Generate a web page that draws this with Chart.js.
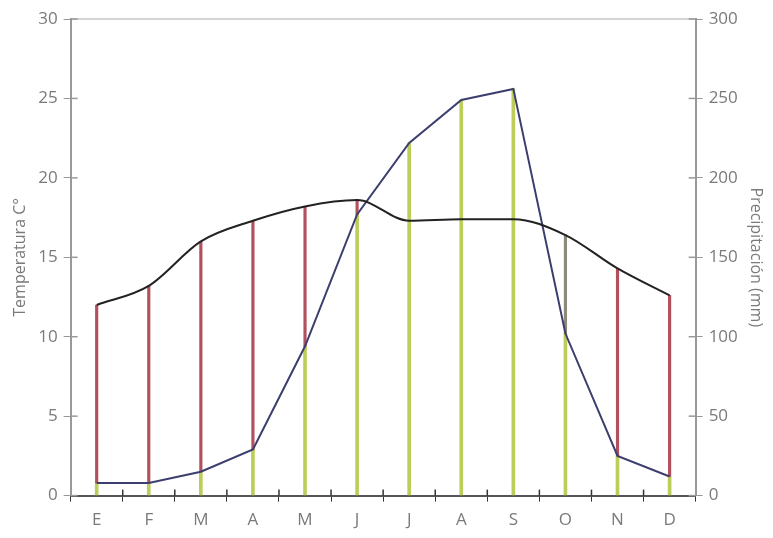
<!DOCTYPE html>
<html>
<head>
<meta charset="utf-8">
<script src="https://cdn.jsdelivr.net/npm/chart.js@4/dist/chart.umd.min.js"></script>
<style>
  html, body { margin: 0; padding: 0; background: #fff; }
  #wrap { width: 773px; height: 538px; }
</style>
</head>
<body>
<div id="wrap"><canvas id="climograma"></canvas></div>
<script>
'use strict';

// meses
const months = ['E', 'F', 'M', 'A', 'M', 'J', 'J', 'A', 'S', 'O', 'N', 'D'];
// temperatura media (°C)
const temperature = [12.0, 13.2, 16.0, 17.3, 18.2, 18.6, 17.3, 17.4, 17.4, 16.4, 14.3, 12.6];
// precipitación (mm)
const precipitation = [8, 8, 15, 29, 94, 177, 222, 249, 256, 102, 25, 12];
// ticks
const tempTicks = [0, 5, 10, 15, 20, 25, 30];
const precTicks = [0, 50, 100, 150, 200, 250, 300];

const GREEN = '#bccd5a';
const RED = '#b2505e';
const dryColors = months.map((m, i) => i === 9 ? '#8d8a7c' : RED);

// tramo seco: de la precipitación (en escala de temperatura) hasta la temperatura
const dryBars = temperature.map((t, i) => t > precipitation[i] / 10 ? [precipitation[i] / 10, t] : null);
const wetBars = precipitation.map(p => [0, p]);

const font = { family: '"Open Sans", "Noto Sans", sans-serif', size: 17 };
const gray = '#7a7a7a';

// marcas hacia dentro del área (las de fuera las pinta Chart.js)
const innerTicks = {
    id: 'innerTicks',
    afterDraw(chart) {
        const ctx = chart.ctx;
        const area = chart.chartArea;
        const sx = chart.scales.x, sy = chart.scales.y, s2 = chart.scales.y2;
        ctx.save();
        ctx.lineWidth = 1.5;
        ctx.strokeStyle = '#999';
        tempTicks.forEach(v => {
            const py = sy.getPixelForValue(v);
            ctx.beginPath(); ctx.moveTo(area.left, py); ctx.lineTo(area.left + 7, py); ctx.stroke();
        });
        precTicks.forEach(v => {
            const py = s2.getPixelForValue(v);
            ctx.beginPath(); ctx.moveTo(area.right, py); ctx.lineTo(area.right - 7, py); ctx.stroke();
        });
        ctx.strokeStyle = '#333';
        for (let i = 1; i < months.length; i++) {
            const px = (sx.getPixelForValue(i - 1) + sx.getPixelForValue(i)) / 2;
            ctx.beginPath(); ctx.moveTo(px, area.bottom); ctx.lineTo(px, area.bottom - 6); ctx.stroke();
        }
        ctx.restore();
    }
};

const config = {
    data: {
        labels: months,
        datasets: [
            {
                type: 'line',
                label: 'Temperatura',
                data: temperature,
                yAxisID: 'y',
                borderColor: '#222',
                borderWidth: 2,
                pointRadius: 0,
                cubicInterpolationMode: 'monotone',
                order: 0
            },
            {
                type: 'line',
                label: 'Precipitación',
                data: precipitation,
                yAxisID: 'y2',
                borderColor: '#3c3f6e',
                borderWidth: 2,
                pointRadius: 0,
                tension: 0,
                order: 0
            },
            {
                type: 'bar',
                label: 'húmedo',
                data: wetBars,
                yAxisID: 'y2',
                backgroundColor: GREEN,
                barThickness: 3,
                grouped: false,
                order: 2
            },
            {
                type: 'bar',
                label: 'seco',
                data: dryBars,
                yAxisID: 'y',
                backgroundColor: dryColors,
                barThickness: 2.5,
                grouped: false,
                order: 1
            }
        ]
    },
    options: {
        responsive: true,
        maintainAspectRatio: false,
        animation: false,
        layout: { padding: { top: 11, right: 6, bottom: 0, left: 9 } },
        plugins: {
            legend: { display: false },
            tooltip: { enabled: false }
        },
        scales: {
            x: {
                offset: true,
                grid: { display: true, drawOnChartArea: false, offset: true, color: '#333', tickLength: 6 },
                border: { color: '#555', width: 2 },
                ticks: { color: gray, font: font, padding: 8 }
            },
            xTop: {
                position: 'top',
                display: true,
                grid: { display: false },
                ticks: { display: false },
                border: { color: '#d4d4d4', width: 2 }
            },
            y: {
                position: 'left',
                min: 0,
                max: 30,
                afterBuildTicks: axis => { axis.ticks = tempTicks.map(v => ({ value: v })); },
                grid: { drawOnChartArea: false, color: '#999', tickLength: 7 },
                border: { color: '#999', width: 2 },
                ticks: { color: gray, font: font, padding: 6 },
                title: { display: true, text: 'Temperatura C°', color: gray, font: { family: font.family, size: 16 }, padding: 2 }
            },
            y2: {
                position: 'right',
                min: 0,
                max: 300,
                afterBuildTicks: axis => { axis.ticks = precTicks.map(v => ({ value: v })); },
                grid: { drawOnChartArea: false, color: '#999', tickLength: 7 },
                border: { color: '#999', width: 2 },
                ticks: { color: gray, font: font, padding: 6 },
                title: { display: true, text: 'Precipitación (mm)', color: gray, font: { family: font.family, size: 16 }, padding: 2 }
            }
        }
    },
    plugins: [innerTicks]
};

const chart = new Chart(document.getElementById('climograma'), config);
</script>
</body>
</html>
